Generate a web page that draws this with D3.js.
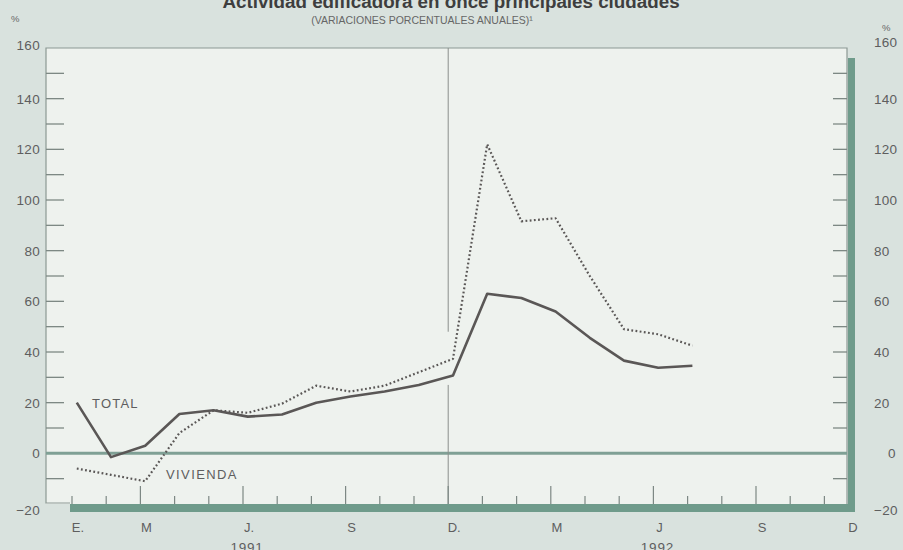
<!DOCTYPE html>
<html>
<head>
<meta charset="utf-8">
<script src="https://cdn.jsdelivr.net/npm/d3@7"></script>
<style>
  body { margin: 0; background: #d9e2de; }
  svg { display: block; font-family: "Liberation Sans", Arial, sans-serif; }
</style>
</head>
<body>
<svg id="chart" width="903" height="550"></svg>
<script>
// months Jan 1991 .. Jul 1992 (index 0 = E. 1991)
const total = [20, -1.5, 3, 15.5, 17, 14.5, 15.3, 20, 22.4, 24.4, 27, 30.7,
               63, 61.3, 56, 45.6, 36.6, 33.8, 34.6];
const vivienda = [-6, -8.5, -11, 8, 17, 16, 19.6, 26.7, 24.4, 26.7, 32, 37.3,
                  122, 91.6, 92.8, 70, 49, 47, 42.5];

const yTicks = [-20, 0, 20, 40, 60, 80, 100, 120, 140, 160];
const monthLabels = [
  { m: 0, t: "E." }, { m: 2, t: "M" }, { m: 5, t: "J." }, { m: 8, t: "S" }, { m: 11, t: "D." },
  { m: 14, t: "M" }, { m: 17, t: "J" }, { m: 20, t: "S" }, { m: 23, t: "D" }
];
const years = [{ m: 5, t: "1991" }, { m: 17, t: "1992" }];

const svg = d3.select("#chart");
const pLeft = 46, pRight = 847, pTop = 48, pBottom = 504;

const x = d3.scaleLinear().domain([0, 23]).range([72, 858.6]);
const y = d3.scaleLinear().domain([-20, 160]).range([pBottom, pTop]);
const px = i => x(i + 0.14);

const ink = "#5a5756";
const band = "#6f9b8b";
const txt = "#5e5e5e";
const fmt = d => d < 0 ? "\u2212" + Math.abs(d) : d;
// end labels sit a little outside the frame
const labelY = d => y(d) + 5 + (d === 160 ? -3 : d === -20 ? 6 : 0);

// title (top part cut off by the page edge)
svg.append("text").attr("x", 451).attr("y", 8).attr("text-anchor", "middle")
  .attr("font-size", 18.8).attr("font-weight", "bold").attr("fill", "#3e3e3e")
  .text("Actividad edificadora en once principales ciudades");
svg.append("text").attr("x", 422).attr("y", 24).attr("text-anchor", "middle")
  .attr("font-size", 10.5).attr("fill", "#666")
  .text("(VARIACIONES PORCENTUALES ANUALES)¹");
svg.append("text").attr("x", 11).attr("y", 22).attr("font-size", 9.5).attr("fill", "#666").text("%");
svg.append("text").attr("x", 882).attr("y", 31).attr("font-size", 9.5).attr("fill", "#666").text("%");

// plot area
svg.append("rect").attr("x", pLeft).attr("y", pTop).attr("width", pRight - pLeft).attr("height", pBottom - pTop)
  .attr("fill", "#eef2ee");

// shadow bands
svg.append("rect").attr("x", 70).attr("y", pBottom).attr("width", 855 - 70).attr("height", 8).attr("fill", band);
svg.append("rect").attr("x", pRight + 1).attr("y", 58).attr("width", 7).attr("height", 512 - 58).attr("fill", band);

// thin frame
svg.append("path")
  .attr("d", `M70,${pBottom - 1}H${pLeft}V${pTop}H${pRight}V${pBottom}`)
  .attr("fill", "none").attr("stroke", "#8c9893").attr("stroke-width", 1.2);

// y ticks, left and right
const minor = d3.range(-10, 160, 10).filter(v => v !== 0);
svg.append("g").selectAll("line").data(minor).join("line")
  .attr("x1", pLeft).attr("x2", pLeft + 18).attr("y1", d => y(d)).attr("y2", d => y(d))
  .attr("stroke", "#7d8884").attr("stroke-width", 1.3);
svg.append("g").selectAll("line").data(minor).join("line")
  .attr("x1", pRight - 14).attr("x2", pRight).attr("y1", d => y(d)).attr("y2", d => y(d))
  .attr("stroke", "#7d8884").attr("stroke-width", 1.3);

// y labels
svg.append("g").selectAll("text").data(yTicks).join("text")
  .attr("x", 40).attr("y", labelY).attr("text-anchor", "end")
  .attr("font-size", 13.5).attr("letter-spacing", 0.3).attr("fill", txt)
  .text(fmt);
svg.append("g").selectAll("text").data(yTicks).join("text")
  .attr("x", d => d === 0 ? 888 : 874).attr("y", d => labelY(d) - (d === 160 ? 3 : 0))
  .attr("font-size", 13.5).attr("letter-spacing", 0.3).attr("fill", txt)
  .text(fmt);

// zero line
svg.append("line").attr("x1", pLeft).attr("x2", pRight).attr("y1", y(0)).attr("y2", y(0))
  .attr("stroke", "#7fa095").attr("stroke-width", 3);

// vertical divider at D. 1991
svg.append("line").attr("x1", x(11)).attr("x2", x(11)).attr("y1", pTop).attr("y2", y(48))
  .attr("stroke", "#8a8f8c").attr("stroke-width", 1);
svg.append("line").attr("x1", x(11)).attr("x2", x(11)).attr("y1", y(27)).attr("y2", pBottom)
  .attr("stroke", "#8a8f8c").attr("stroke-width", 1);

// x ticks
svg.append("g").selectAll("line").data(d3.range(0, 23)).join("line")
  .attr("x1", d => x(d)).attr("x2", d => x(d))
  .attr("y1", pBottom).attr("y2", d => d % 3 === 2 ? pBottom - 18 : pBottom - 8)
  .attr("stroke", "#7d8884").attr("stroke-width", 1.2);

// x labels
svg.append("g").selectAll("text").data(monthLabels).join("text")
  .attr("x", d => Math.min(x(d.m) + 6, 853)).attr("y", 532).attr("text-anchor", "middle")
  .attr("font-size", 13).attr("fill", txt).text(d => d.t);
svg.append("g").selectAll("text").data(years).join("text")
  .attr("x", d => x(d.m) + 4).attr("y", 552).attr("text-anchor", "middle")
  .attr("font-size", 13.5).attr("letter-spacing", 0.8).attr("fill", txt).text(d => d.t);

// lines
const line = d3.line().x((d, i) => px(i)).y(d => y(d));
svg.append("path").datum(vivienda).attr("d", line)
  .attr("fill", "none").attr("stroke", ink).attr("stroke-width", 2.2)
  .attr("stroke-dasharray", "1.8,2.4").attr("stroke-linejoin", "round");
svg.append("path").datum(total).attr("d", line)
  .attr("fill", "none").attr("stroke", ink).attr("stroke-width", 2.6)
  .attr("stroke-linejoin", "round");

// series labels
svg.append("text").attr("x", 92).attr("y", y(20) + 5).attr("font-size", 13)
  .attr("fill", txt).attr("letter-spacing", 1.2).text("TOTAL");
svg.append("text").attr("x", 166).attr("y", y(-8) + 5).attr("font-size", 13)
  .attr("fill", txt).attr("letter-spacing", 1.4).text("VIVIENDA");
</script>
</body>
</html>
